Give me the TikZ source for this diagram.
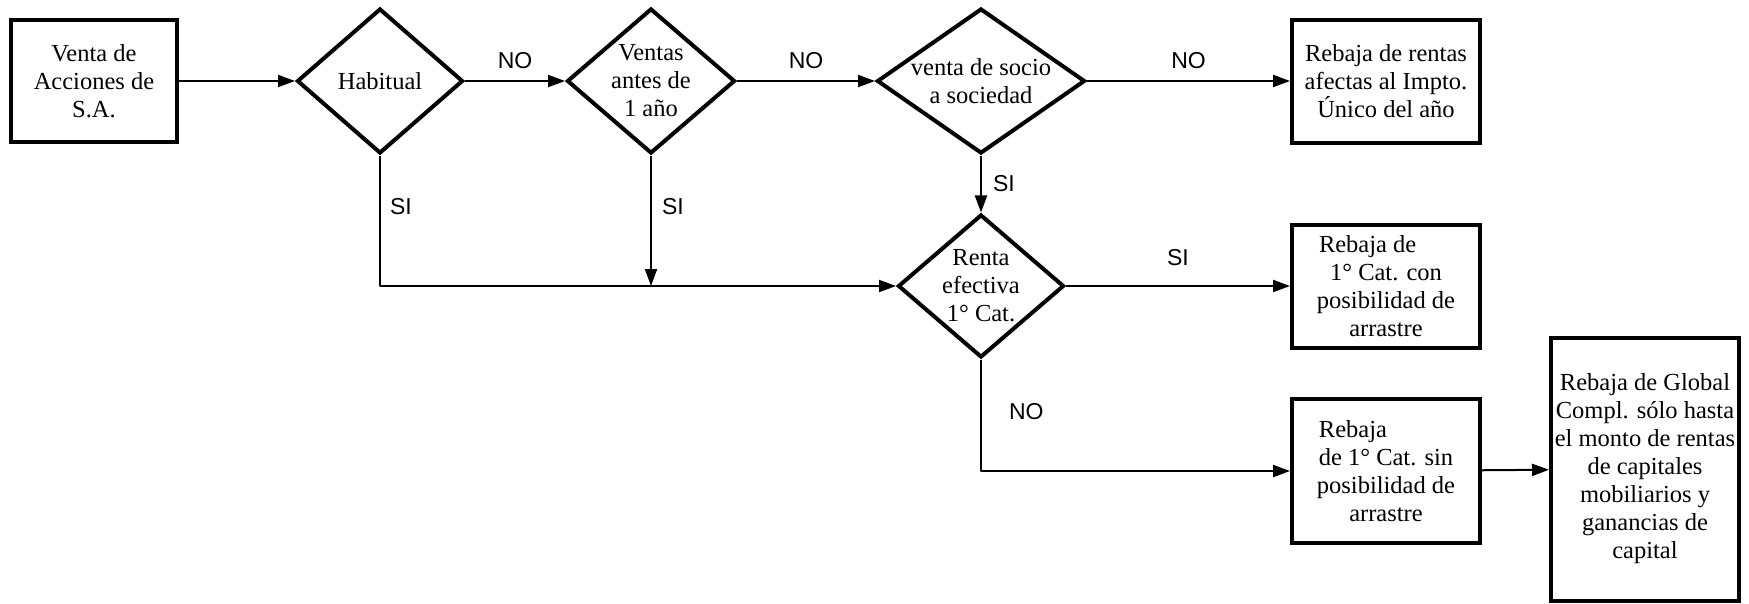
\documentclass[tikz,border=0pt]{standalone}
\usepackage{fontspec}
\setmainfont{Liberation Serif}
\newfontfamily\answerfamily{Liberation Sans}
\usetikzlibrary{shapes.geometric,arrows.meta}
\newcommand{\boxfont}{\fontsize{24.5}{28}\selectfont}
\newcommand{\answerfont}{\answerfamily\fontsize{23}{27.5}\selectfont}
\begin{document}
\begin{tikzpicture}[x=1pt,y=-1pt,line join=round,>={Triangle[length=17pt,width=12pt]}]
            \tikzset{box/.style={draw,line width=4pt,line join=miter,minimum width=188pt,inner sep=1pt,align=center,font=\boxfont},
                decision/.style={diamond,draw,line width=4pt,line join=miter,inner sep=-8pt,align=center,font=\boxfont},
                flow/.style={line width=2pt,->},
                answer/.style={font=\answerfont,inner sep=0pt}}
            \useasboundingbox (0,0) rectangle (1749,603);
            \node[box,minimum width=166pt,minimum height=122pt] (venta) at (94,81) {Venta de\\Acciones de\\S.A.};
            \node[decision,minimum width=166pt,minimum height=145pt,aspect=1.15] (habitual) at (380,81) {Habitual};
            \node[decision,minimum width=168pt,minimum height=145pt,aspect=1.16] (ventas) at (651,81) {Ventas\\antes de\\1 año};
            \node[decision,minimum width=208pt,minimum height=145pt,aspect=1.43] (socio) at (981,81) {venta de socio\\a sociedad};
            \node[decision,minimum width=166pt,minimum height=143pt,aspect=1.16] (renta) at (981,286) {Renta\\efectiva\\1° Cat.};
            \node[box,minimum height=123pt] (afectas) at (1386,81) {Rebaja de rentas\\afectas al Impto.\\Único del año};
            \node[box,minimum height=123pt] (conarrastre) at (1386,286) {Rebaja de\hspace*{1.5em}\\1° Cat. con\hspace*{1.6em}\\posibilidad de\\arrastre};
            \node[box,minimum height=144pt] (sinarrastre) at (1386,471) {Rebaja\hspace*{2.7em}\\de 1° Cat. sin\\posibilidad de\\arrastre};
            \node[box,minimum height=263pt] (global) at (1645,469) {Rebaja de Global\\Compl. sólo hasta\\el monto de rentas\\de capitales\\mobiliarios y\\ganancias de\\capital};
            \draw[flow] (venta) -- (habitual);
            \draw[flow] (habitual) -- node[answer,above=11pt] {NO} (ventas);
            \draw[flow] (ventas) -- node[answer,above=11pt] {NO} (socio);
            \draw[flow] (socio) -- node[answer,above=11pt] {NO} (afectas);
            \draw[flow] (socio) -- node[answer,right=11pt] {SI} (renta);
            \draw[flow] (habitual.south) -- node[answer,right=9pt,pos=.39] {SI} (habitual.south |- renta.west) -- (renta.west);
            \draw[flow] (ventas.south) -- node[answer,right=10pt,pos=.39] {SI} (ventas.south |- renta.west);
            \draw[flow] (renta) -- node[answer,above=19pt] {SI} (conarrastre);
            \draw[flow] (renta.south) -- node[answer,right=27pt,pos=.47] {NO} (renta.south |- sinarrastre.west) -- (sinarrastre.west);
            \draw[flow] (sinarrastre) -- (global);
        \end{tikzpicture}
\end{document}
